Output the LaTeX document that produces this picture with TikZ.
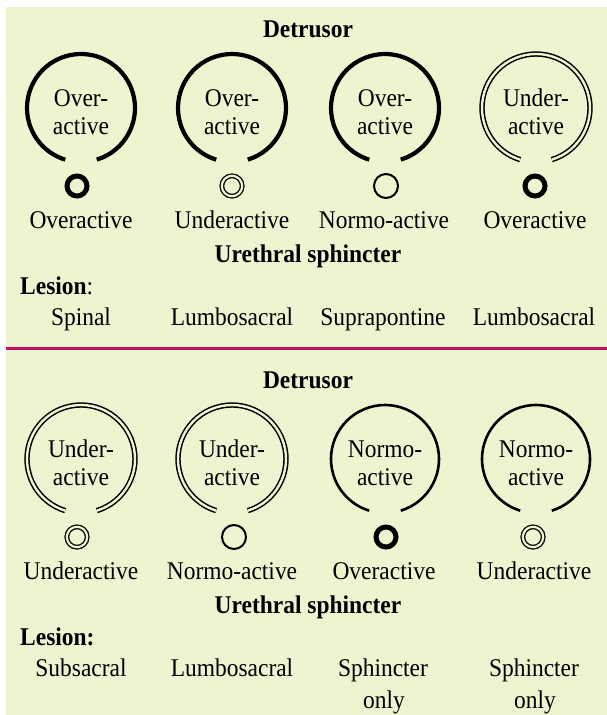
\documentclass[tikz,border=0pt]{standalone}
\usepackage{fontspec}
\setmainfont{Liberation Serif}[FakeStretch=0.92]
\definecolor{bgc}{RGB}{238,243,208}
\definecolor{rulec}{RGB}{192,16,96}
\begin{document}
\begin{tikzpicture}[x=1pt,y=1pt,
  every node/.style={font=\fontsize{25.5}{30}\selectfont, inner sep=0pt},
  lbl/.style={anchor=base},
  ttl/.style={anchor=base, font=\fontsize{25.5}{30}\selectfont\bfseries},
  bigthick/.style={line width=4.2pt},
  bigdouble/.style={double=bgc, line width=1.5pt, double distance=2.4pt},
  bignormal/.style={line width=2.6pt},
  smthick/.style={line width=5pt},
  smdouble/.style={double=bgc, line width=1.3pt, double distance=2.2pt},
  smnormal/.style={line width=2pt}]
\useasboundingbox (0,0) rectangle (607,-715);
\fill[bgc] (6,-7) rectangle (607,-715);
\fill[rulec] (6,-346.5) rectangle (607,-349.5);

% ---------- top panel ----------
\node[ttl] (dt1) at (308,-37) {Detrusor};
\foreach \cx/\st/\ta [count=\i] in {81/bigthick/Over-, 232/bigthick/Over-, 385/bigthick/Over-, 536/bigdouble/Under-}{
  \coordinate (tc\i) at (\cx,-108);
  \draw[\st] (tc\i) ++(-73:54) arc[start angle=-73, end angle=253, radius=54];
  \node[lbl] (tt\i) at (\cx,-106) {\ta};
  \node[lbl] (tb\i) at (\cx,-134) {active};
}
\draw[smthick] (77,-186) circle[radius=10];
\draw[smdouble] (232,-186) circle[radius=10.2];
\draw[smnormal] (386,-186) circle[radius=12];
\draw[smthick] (535,-186) circle[radius=10];
\node[lbl] (tl1) at (81,-228) {Overactive};
\node[lbl] (tl2) at (232,-228) {Underactive};
\node[lbl] (tl3) at (384,-228) {Normo-active};
\node[lbl] (tl4) at (535,-228) {Overactive};
\node[ttl] (us1) at (308,-262) {Urethral sphincter};
\node[anchor=base west] (les1) at (20,-294) {\textbf{Lesion}:};
\node[lbl] (tv1) at (81,-325) {Spinal};
\node[lbl] (tv2) at (232,-325) {Lumbosacral};
\node[lbl] (tv3) at (383,-325) {Suprapontine};
\node[lbl] (tv4) at (534,-325) {Lumbosacral};

% ---------- bottom panel ----------
\node[ttl] (dt2) at (308,-388) {Detrusor};
\foreach \cx/\st/\ta [count=\i] in {81/bigdouble/Under-, 232/bigdouble/Under-, 385/bignormal/Normo-, 536/bignormal/Normo-}{
  \coordinate (bc\i) at (\cx,-459);
  \draw[\st] (bc\i) ++(-73:54) arc[start angle=-73, end angle=253, radius=54];
  \node[lbl] (bt\i) at (\cx,-457) {\ta};
  \node[lbl] (bb\i) at (\cx,-485) {active};
}
\draw[smdouble] (77,-537) circle[radius=10.2];
\draw[smnormal] (234,-537) circle[radius=12];
\draw[smthick] (386,-537) circle[radius=10];
\draw[smdouble] (533,-537) circle[radius=10.2];
\node[lbl] (bl1) at (81,-579) {Underactive};
\node[lbl] (bl2) at (232,-579) {Normo-active};
\node[lbl] (bl3) at (384,-579) {Overactive};
\node[lbl] (bl4) at (534,-579) {Underactive};
\node[ttl] (us2) at (308,-613) {Urethral sphincter};
\node[anchor=base west] (les2) at (20,-645) {\textbf{Lesion:}};
\node[lbl] (bv1) at (81,-676) {Subsacral};
\node[lbl] (bv2) at (232,-676) {Lumbosacral};
\node[lbl] (bv3) at (383,-676) {Sphincter};
\node[lbl] (bv4) at (534,-676) {Sphincter};
\node[lbl] (bo3) at (384,-708) {only};
\node[lbl] (bo4) at (535,-708) {only};
\end{tikzpicture}
\end{document}
